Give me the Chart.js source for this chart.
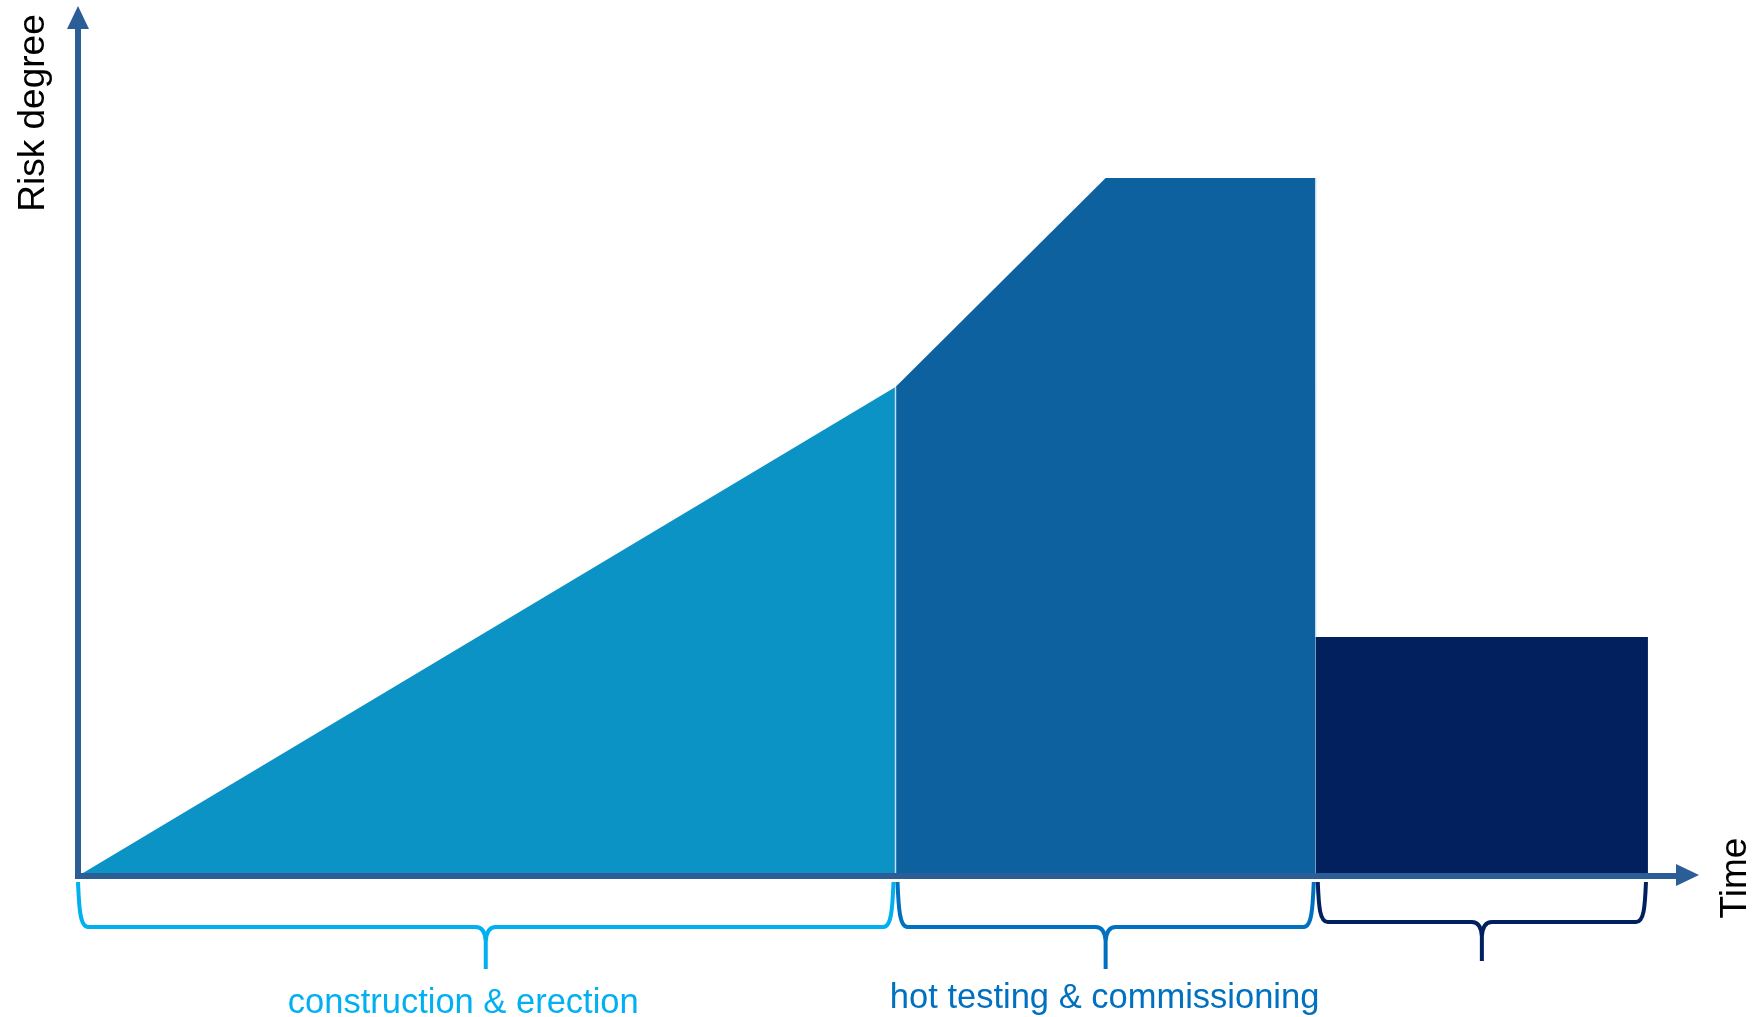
<!DOCTYPE html>
<html lang="en">
<head>
    <meta charset="UTF-8">
    <title>Risk degree over time</title>
    <script src="https://cdn.jsdelivr.net/npm/chart.js"></script>
    <style>
        html, body {
            margin: 0;
            padding: 0;
            background: #fff;
        }
        .chart-wrap {
            width: 1757px;
            height: 1017px;
            position: relative;
        }
    </style>
</head>
<body>
    <div class="chart-wrap">
        <canvas id="riskChart"></canvas>
    </div>

    <script>
        // Phases along the time axis
        const phaseNames = ['construction & erection', 'hot testing & commissioning', ''];
        const phaseStart = [0, 8.17, 12.37];
        const phaseEnd = [8.17, 12.37, 15.69];
        const phaseLabelX = [3.85, 10.26, null];

        // Risk profile per phase
        const erectionTime = [0, 8.17];
        const erectionRisk = [0, 4.89];
        const testingTime = [8.17, 10.27, 12.37];
        const testingRisk = [4.89, 6.98, 6.98];
        const operationTime = [12.37, 15.69];
        const operationRisk = [2.39, 2.39];

        // Axis extents (arrow tips)
        const timeMax = 16.2;
        const riskMax = 8.7;

        const axisColor = '#2b5e97';
        const phaseColors = ['#0b93c6', '#0c619e', '#021f5e'];
        const braceColors = ['#00b0f0', '#0070c0', '#002060'];

        function toPoints(xs, ys) {
            return xs.map((x, i) => ({ x: x, y: ys[i] }));
        }

        // Axes with arrow heads, braces and labels
        const decorPlugin = {
            id: 'decor',
            afterDatasetsDraw(chart) {
                const ctx = chart.ctx;
                const xs = chart.scales.x;
                const ys = chart.scales.y;
                const x0 = xs.getPixelForValue(0);
                const y0 = ys.getPixelForValue(0);
                const xTip = xs.getPixelForValue(timeMax);
                const yTip = ys.getPixelForValue(riskMax);
                const head = 23;

                ctx.save();
                // thin light seams between phases
                ctx.strokeStyle = 'rgba(205,225,245,0.9)';
                ctx.lineWidth = 1.5;
                ctx.beginPath();
                ctx.moveTo(xs.getPixelForValue(phaseEnd[0]), ys.getPixelForValue(erectionRisk[1]));
                ctx.lineTo(xs.getPixelForValue(phaseEnd[0]), y0);
                ctx.moveTo(xs.getPixelForValue(phaseEnd[1]), ys.getPixelForValue(testingRisk[2]));
                ctx.lineTo(xs.getPixelForValue(phaseEnd[1]), ys.getPixelForValue(operationRisk[0]));
                ctx.stroke();

                // axes
                ctx.strokeStyle = axisColor;
                ctx.fillStyle = axisColor;
                ctx.lineWidth = 6;
                ctx.lineCap = 'butt';
                ctx.beginPath();
                ctx.moveTo(x0, y0 + 3);
                ctx.lineTo(x0, yTip + head);
                ctx.moveTo(x0 - 3, y0);
                ctx.lineTo(xTip - head, y0);
                ctx.stroke();

                ctx.beginPath();
                ctx.moveTo(x0, yTip);
                ctx.lineTo(x0 - 11, yTip + head);
                ctx.lineTo(x0 + 11, yTip + head);
                ctx.closePath();
                ctx.fill();

                ctx.beginPath();
                ctx.moveTo(xTip, y0 - 1);
                ctx.lineTo(xTip - head, y0 - 12);
                ctx.lineTo(xTip - head, y0 + 10);
                ctx.closePath();
                ctx.fill();

                // braces under each phase
                ctx.lineWidth = 4;
                ctx.lineJoin = 'round';
                phaseStart.forEach((s, i) => {
                    const a = xs.getPixelForValue(s) + (i === 0 ? 0 : 2);
                    const b = xs.getPixelForValue(phaseEnd[i]) - 2;
                    const m = (a + b) / 2;
                    const top = y0 + 6;
                    const yH = i === 2 ? y0 + 46 : y0 + 51;
                    const yT = i === 2 ? y0 + 85 : y0 + 93;
                    const r = 10;
                    ctx.strokeStyle = braceColors[i];
                    ctx.beginPath();
                    ctx.moveTo(a, top);
                    ctx.bezierCurveTo(a + 1, top + 25, a + 2, yH, a + r, yH);
                    ctx.lineTo(m - r, yH);
                    ctx.quadraticCurveTo(m - 1, yH, m, yH + r + 4);
                    ctx.lineTo(m, yT);
                    ctx.moveTo(m, yH + r + 4);
                    ctx.quadraticCurveTo(m + 1, yH, m + r, yH);
                    ctx.lineTo(b - r, yH);
                    ctx.bezierCurveTo(b - 2, yH, b - 1, top + 25, b, top);
                    ctx.stroke();

                    if (phaseLabelX[i] !== null) {
                        ctx.fillStyle = braceColors[i];
                        ctx.font = '34.5px "Liberation Sans", Arial, sans-serif';
                        ctx.textAlign = 'center';
                        ctx.textBaseline = 'middle';
                        ctx.fillText(phaseNames[i], xs.getPixelForValue(phaseLabelX[i]), i === 0 ? 1003 : 998);
                    }
                });

                // axis titles
                ctx.fillStyle = '#000';
                ctx.font = '37px "Liberation Sans", Arial, sans-serif';
                ctx.textAlign = 'center';
                ctx.textBaseline = 'middle';
                ctx.translate(34, 113);
                ctx.rotate(-Math.PI / 2);
                ctx.fillText('Risk degree', 0, 0);
                ctx.setTransform(1, 0, 0, 1, 0, 0);
                ctx.translate(1736, 878);
                ctx.rotate(-Math.PI / 2);
                ctx.fillText('Time', 0, 0);
                ctx.restore();
            }
        };

        const ctx = document.getElementById('riskChart').getContext('2d');
        new Chart(ctx, {
            type: 'line',
            data: {
                datasets: [
                    {
                        label: 'construction & erection',
                        data: toPoints(erectionTime, erectionRisk),
                        backgroundColor: phaseColors[0],
                        borderWidth: 0,
                        pointRadius: 0,
                        fill: 'origin'
                    },
                    {
                        label: 'hot testing & commissioning',
                        data: toPoints(testingTime, testingRisk),
                        backgroundColor: phaseColors[1],
                        borderWidth: 0,
                        pointRadius: 0,
                        fill: 'origin'
                    },
                    {
                        label: 'operation',
                        data: toPoints(operationTime, operationRisk),
                        backgroundColor: phaseColors[2],
                        borderWidth: 0,
                        pointRadius: 0,
                        fill: 'origin'
                    }
                ]
            },
            options: {
                responsive: true,
                maintainAspectRatio: false,
                animation: false,
                layout: {
                    padding: { left: 78, right: 58, top: 6, bottom: 141 }
                },
                plugins: {
                    legend: { display: false },
                    tooltip: { enabled: false }
                },
                scales: {
                    x: { type: 'linear', min: 0, max: timeMax, display: false },
                    y: { type: 'linear', min: 0, max: riskMax, display: false }
                }
            },
            plugins: [decorPlugin]
        });
    </script>
</body>
</html>
